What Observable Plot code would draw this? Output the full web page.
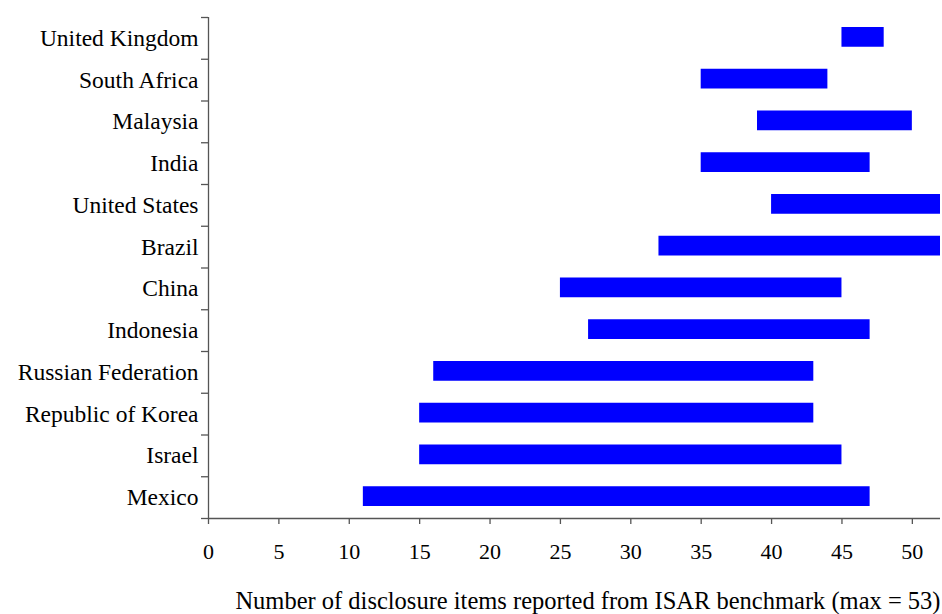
<!DOCTYPE html>
<html>
<head>
<meta charset="utf-8">
<script src="https://cdn.jsdelivr.net/npm/d3@7"></script>
<script src="https://cdn.jsdelivr.net/npm/@observablehq/plot@0.6"></script>
<style>
  html, body { margin: 0; padding: 0; background: #fff; }
  #chart svg { display: block; }
</style>
</head>
<body>
<div id="chart"></div>
<script>
const countries = ["United Kingdom", "South Africa", "Malaysia", "India", "United States", "Brazil", "China", "Indonesia", "Russian Federation", "Republic of Korea", "Israel", "Mexico"];
const minItems = [45, 35, 39, 35, 40, 32, 25, 27, 16, 15, 15, 11];
const maxItems = [48, 44, 50, 47, 52, 52, 45, 47, 43, 43, 45, 47];
const xTicks = [0, 5, 10, 15, 20, 25, 30, 35, 40, 45, 50];
const xTitle = "Number of disclosure items reported from ISAR benchmark (max = 53)";

const data = countries.map((c, i) => ({country: c, idx: i, lo: minItems[i], hi: maxItems[i]}));
const boundaries = d3.range(countries.length + 1);
const font = "'Liberation Serif', 'Times New Roman', serif";
const axisColor = "#555";

const chart = Plot.plot({
  width: 942,
  height: 614,
  marginTop: 17,
  marginBottom: 96,
  marginLeft: 208,
  marginRight: 2,
  style: {fontFamily: font, background: "#fff", color: "#000"},
  x: {domain: [0, 52], label: null},
  y: {domain: [0, countries.length], reverse: true, label: null},
  marks: [
    Plot.rectX(data, {x1: "lo", x2: "hi", y1: d => d.idx, y2: d => d.idx + 1, insetTop: 10, insetBottom: 12, fill: "#0000ff"}),
    Plot.ruleX([0], {stroke: axisColor, strokeWidth: 1.3}),
    Plot.ruleY([countries.length], {stroke: axisColor, strokeWidth: 1.3}),
    Plot.axisY({ticks: boundaries, tickFormat: () => "", tickSize: 7, stroke: axisColor, strokeWidth: 1.3}),
    Plot.axisX({ticks: xTicks, tickSize: 6, tickPadding: 19, fontSize: 22, stroke: axisColor, strokeWidth: 1.3, label: null}),
    Plot.text(data, {x: 0, y: d => d.idx + 0.5, text: "country", textAnchor: "end", dx: -10, fontSize: 23.5, fill: "#000"}),
    Plot.text([xTitle], {frameAnchor: "bottom-right", text: d => d, dy: 90, dx: 0, fontSize: 24.5, textAnchor: "end", lineAnchor: "bottom", fill: "#000"})
  ]
});
document.getElementById("chart").append(chart);
</script>
</body>
</html>
